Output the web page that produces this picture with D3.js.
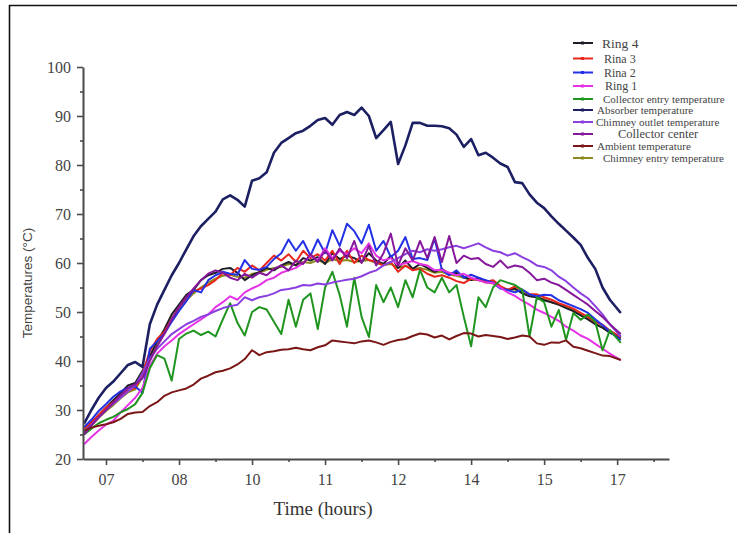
<!DOCTYPE html>
<html>
<head>
<meta charset="utf-8">
<script src="https://cdn.jsdelivr.net/npm/d3@7/dist/d3.min.js"></script>
<style>
  html, body { margin: 0; padding: 0; background: #fff; }
  svg { display: block; }
</style>
</head>
<body>
<svg id="chart" width="737" height="533"></svg>
<script>
// Hour tick labels (ticks are evenly spaced along the axis)
const hourLabels = ["07", "08", "10", "11", "12", "14", "15", "17"];

// Sample positions along the time axis, in tick units (0 = "07", 7 = "17")
const samples = [-0.3,-0.2,-0.1,0,0.1,0.2,0.3,0.4,0.5,0.6,0.7,0.8,0.9,1,1.1,1.2,1.3,1.4,1.5,1.6,1.7,1.8,1.9,2,2.1,2.2,2.3,2.4,2.5,2.6,2.7,2.8,2.9,3,3.1,3.2,3.3,3.4,3.5,3.6,3.7,3.8,3.9,4,4.1,4.2,4.3,4.4,4.5,4.6,4.7,4.8,4.9,5,5.1,5.2,5.3,5.4,5.5,5.6,5.7,5.8,5.9,6,6.1,6.2,6.3,6.4,6.5,6.6,6.7,6.8,6.9,7.05];

// Temperatures (°C)
const chimneyEntry = [25.2,26.8,28.4,29.8,31,32.4,33.6,34.2,36.8,40.5,
  43.5,45.8,48.2,50.5,52.4,53.8,55,56,56.8,57.4,
  57.6,57.2,57,57.8,58,58.6,59,59.2,59.8,59.6,
  60.2,60,60.6,60,60.8,60.4,60.6,60.2,60.4,60.6,
  60,59.6,59.8,59,59.4,58.8,59,58.6,58,58.2,
  57.6,57.4,57,56.6,56.6,56,55.8,55,54.6,54.6,
  54,53.4,53,52.6,52,51.5,51,50.3,49.5,48.6,
  47.6,46.8,45.8,44.6];

const ring4 = [25.5,27.3,29,30.5,32,33.5,35,35.5,38,41,
  44,46.5,49.5,51.5,53.5,54.5,56.5,57.5,58,58.8,
  59,58,56.5,57.5,58.2,59,58.5,59.5,60.2,59.5,
  61,60.5,61.2,59.8,62,60.8,61.5,61,60.2,62,
  60.5,59.8,61.5,59,60.5,58.8,59.8,59,58.2,58.8,
  57.8,58,57.2,56.5,57,56.2,56,55,54.5,54.8,
  53.8,53.2,53,52.4,52,51.5,50.8,50.2,49.3,48.5,
  47.5,46.8,45.8,44.8];

const ring3 = [26.2,27.5,29,30.5,31.6,33,34,34.5,37.5,42,
  44.5,46,48.5,51,53,54.2,54.8,55.5,56.5,58,
  57.5,59,58.2,59.5,58.5,60,61.5,60.5,61.8,60.2,
  62.5,61,61.8,60.5,62.5,59.8,62.5,60,61.5,60.6,
  60.2,59.5,60.2,58.2,59.5,58.5,58.8,57.8,57.2,57.5,
  57,56.3,55.9,56.8,56.5,56.2,56.5,55.3,54.5,55.2,
  54.5,53.6,53.6,53,52.5,51.8,51.3,50.7,49.8,49,
  48,47.4,46.2,44.9];

const ring2 = [26.5,28,29.8,31.2,32.7,33.8,34.5,34.8,33.5,42.5,
  44,45.6,48,50.2,52.2,54.5,54,56.5,57.5,58.2,
  57.8,57.6,60.6,58.8,58.6,59.2,60.8,62,64.8,62.5,
  64.5,61.5,64.8,62,66.7,63.5,68,66.5,64,67.8,
  62.5,64.5,61.2,62.5,65.3,60.8,61,60.6,65,58.6,
  57.5,58.5,57,57.6,57,56.5,56,54.8,54.5,54,
  54.6,53.6,53.2,53.5,53.4,52.4,51.8,51.2,50.6,49.8,
  48.5,47.3,46,44.3];

const ring1 = [23,24.5,25.8,27,27.8,29.5,31,32.5,34.5,39,
  41.5,43,44.2,45.5,46.5,47.5,48.5,49.5,51,52,
  53.2,52.5,54,54.8,55.5,56.5,57,58,58.5,59,
  60,61.5,60.5,63,61,62.5,61.8,63,62,64,
  61.5,60.5,61,59.5,60,60.4,59.8,59.5,58.5,58.6,
  58,57.5,57.8,57,56.5,56,55.9,55,54,53.3,
  52.3,51.5,50.5,49.8,49,48.2,47,46.2,45.2,44.5,
  43.5,42.5,41.5,40.2];

const collectorEntry = [25,26.2,27.3,28,28.6,29.5,30.2,31.2,33.5,38.5,
  41.2,40.5,36,44.5,45.6,46.2,45.3,46,45,48.5,
  51.8,47.8,45.2,50,51,50.5,48,45.5,52.5,47,
  52.5,53.8,46.5,55,58.2,53.5,47,57,49,44.9,
  55.5,52,55,51,56.5,53,58.6,55,54,57,
  54,55.5,49,43,53,51,55,56.5,56,55.5,
  54.5,45,53,52,47,50.4,44.3,49.8,48.4,49.5,
  48,42.2,46.3,43.7];

const absorber = [27.2,30,32.5,34.5,35.8,37.5,39.2,39.8,38.8,47.5,
  51.5,54.5,57.5,60,62.8,65.5,67.5,69,70.5,73,
  73.8,72.9,71.5,76.8,77.3,78.5,82.5,84.5,85.5,86.5,
  87,88,89.2,89.6,88.2,90.2,90.8,90.2,91.7,90,
  85.5,87.1,88.8,80.2,84,88.6,88.6,88,88,87.9,
  87.5,86.2,83.7,85.3,82,82.5,81.5,80.3,79.6,76.5,
  76.3,74,72.3,71.2,69.5,68,66.6,65.2,63.7,61,
  58.8,55,52.5,49.8];

const chimneyOutlet = [25.5,27,28.5,30,31.3,32.5,33.8,35,37.5,40.5,
  42.5,44,45.5,46.5,47.5,48.2,49,49.5,50.2,50.8,
  51.2,51.5,53,52.4,53,53.3,53.8,54.5,54.7,55,
  55.5,55.4,55.8,55.6,56,56.3,56.6,56.8,57.3,58,
  58.5,59.5,60.2,61,61.8,62.5,62.2,62.8,62.5,62.8,
  63.2,63.5,63,63.5,64,63.2,62.5,62.2,61.5,62,
  61.2,60.5,59.5,59.2,58.5,57.2,56.3,55,53.8,52.8,
  51.2,49.5,47.5,45];

const collectorCenter = [25,26.8,28.5,30,31.5,33,34.5,35.2,36.5,40,
  43,45.5,48.5,51,53,54.8,56.5,57.8,58.5,58,
  57,56.5,57.8,57,58,57.5,58.8,59.5,58.5,60.5,
  59.8,61.8,60.2,62.5,60.5,63,61,64.5,60,63.5,
  59.5,62,66,59.5,63,60.5,64.5,61,65.3,60.2,
  65.5,60,61.5,60.8,61,59.8,59.2,60.5,59,59.5,
  59.2,58,56.5,56.8,56,55.5,54.5,53.5,52.5,51.5,
  50.2,49,47.5,45.5];

const ambient = [25.8,26.4,26.8,27.1,27.5,28.2,29.2,29.5,29.6,30.8,
  31.6,32.9,33.6,34,34.4,35.2,36.4,37,37.7,38,
  38.5,39.3,40.4,42.2,41.2,41.8,42,42.3,42.4,42.7,
  42.4,42.2,42.8,43.2,44.2,44,43.8,43.6,44,44.2,
  43.8,43.3,43.9,44.3,44.5,45.1,45.6,45.4,44.8,45.2,
  44.4,45.1,45.7,45.6,45,45.3,45.1,44.9,44.5,44.8,
  45.2,45,43.6,43.3,43.8,43.7,44.2,42.9,42.6,42.1,
  41.6,41.1,41,40.2];

// Series names, in legend order
const seriesNames = ["Ring 4", "Rina 3", "Rina 2", "Ring 1",
  "Collector entry temperature", "Absorber temperature",
  "Chimney outlet temperature", "Collector center",
  "Ambient temperature", "Chimney entry temperature"];
const seriesValues = [ring4, ring3, ring2, ring1, collectorEntry, absorber,
  chimneyOutlet, collectorCenter, ambient, chimneyEntry];
const seriesColors = ["#1e1e2a", "#e8261e", "#2230e6", "#e632e6", "#1f951f",
  "#1c1f62", "#8b3fe0", "#86189a", "#7a1616", "#8c8a1c"];

// Y axis ticks
const yMajor = [20, 30, 40, 50, 60, 70, 80, 90, 100];
const yMinor = [25, 35, 45, 55, 65, 75, 85, 95];

const svg = d3.select("#chart");

// Outer frame (top and left edges)
svg.append("line").attr("x1", 9).attr("y1", 5.5).attr("x2", 737).attr("y2", 5.5)
  .attr("stroke", "#111").attr("stroke-width", 1.6);
svg.append("line").attr("x1", 9.5).attr("y1", 5).attr("x2", 9.5).attr("y2", 533)
  .attr("stroke", "#111").attr("stroke-width", 1.6);

const x = d3.scaleLinear().domain([-0.315, 7.71]).range([83, 669]);
const y = d3.scaleLinear().domain([20, 100]).range([459, 67]);

const axisColor = "#4a4a4a";
const serif = "'Liberation Serif', 'Times New Roman', serif";

// Lines (drawn beneath the axes)
const line = d3.line().x((d, i) => x(samples[i])).y(d => y(d));
const drawOrder = [9, 0, 1, 2, 3, 4, 5, 6, 7, 8];
const plot = svg.append("g");
drawOrder.forEach(k => {
  plot.append("path")
    .datum(seriesValues[k])
    .attr("fill", "none")
    .attr("stroke", seriesColors[k])
    .attr("stroke-width", k === 5 ? 2.6 : 2)
    .attr("stroke-linejoin", "round")
    .attr("d", line);
});

// Y axis
svg.append("g").attr("transform", "translate(83,0)")
  .call(d3.axisLeft(y).tickValues(yMajor).tickSize(6).tickSizeOuter(0).tickPadding(6));
svg.append("g").attr("transform", "translate(83,0)")
  .call(d3.axisLeft(y).tickValues(yMinor).tickSize(3).tickSizeOuter(0).tickFormat(""))
  .call(g => g.select(".domain").remove());

// X axis
svg.append("g").attr("transform", "translate(0,459)")
  .call(d3.axisBottom(x).tickValues(d3.range(hourLabels.length)).tickSize(6).tickSizeOuter(0)
    .tickPadding(9).tickFormat(i => hourLabels[i]));
svg.append("g").attr("transform", "translate(0,459)")
  .call(d3.axisBottom(x).tickValues(hourLabels.map((_, i) => i + 0.5)).tickSize(3)
    .tickSizeOuter(0).tickFormat(""))
  .call(g => g.select(".domain").remove());

svg.selectAll(".domain").attr("stroke", axisColor).attr("stroke-width", 2);
svg.selectAll(".tick line").attr("stroke", axisColor).attr("stroke-width", 1.6);
svg.selectAll(".tick text").attr("fill", "#444").style("font-family", serif).style("font-size", "16px");

// Axis titles
svg.append("text").attr("x", 323).attr("y", 515).attr("text-anchor", "middle")
  .style("font-family", serif).style("font-size", "19px").attr("fill", "#333")
  .text("Time (hours)");
svg.append("text").attr("transform", "translate(32,283) rotate(-90)").attr("text-anchor", "middle")
  .style("font-family", "'Liberation Sans', Arial, sans-serif").style("font-size", "13.5px")
  .attr("fill", "#444").text("Temperatures (°C)");

// Legend
const legendY = [43, 58.5, 72.5, 86, 99, 110, 122, 134, 146, 158];
const legendTextX = [602, 604, 604, 605, 603, 597, 596, 618, 597, 603];
const legendFont = [13.5, 12, 12, 12, 11, 11, 11, 12.5, 11, 11];
const legend = svg.append("g");
seriesNames.forEach((name, k) => {
  const g = legend.append("g");
  g.append("line").attr("x1", 573).attr("x2", 593)
    .attr("y1", legendY[k]).attr("y2", legendY[k])
    .attr("stroke", seriesColors[k]).attr("stroke-width", 2);
  g.append("rect").attr("x", 581).attr("y", legendY[k] - 1.5).attr("width", 3).attr("height", 3)
    .attr("fill", seriesColors[k]);
  g.append("text").attr("x", legendTextX[k]).attr("y", legendY[k]).attr("dy", "0.35em")
    .style("font-family", serif).style("font-size", legendFont[k] + "px")
    .attr("fill", "#444").text(name);
});
</script>
</body>
</html>
